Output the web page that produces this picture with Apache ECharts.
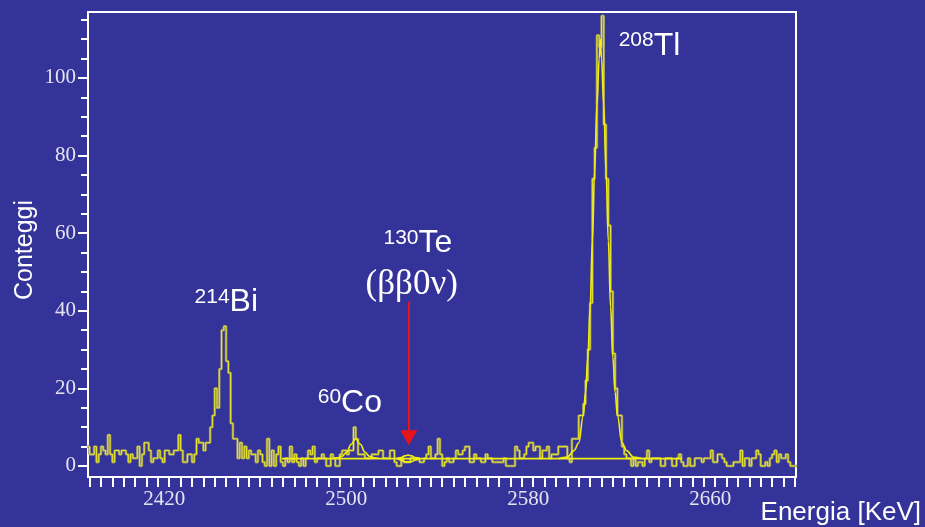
<!DOCTYPE html>
<html>
<head>
<meta charset="utf-8">
<script src="https://cdn.jsdelivr.net/npm/echarts@6/dist/echarts.min.js"></script>
<style>
html, body { margin: 0; padding: 0; background: #333399; }
#chart { width: 925px; height: 527px; }
</style>
</head>
<body>
<div id="chart"></div>
<script>
// spettro: conteggi per bin da 1 keV a partire da binStart
var binStart = 2389;
var counts = [
  5, 3, 3, 5, 1, 3, 5, 4, 3, 8,        // 2389
  3, 1, 4, 4, 3, 4, 4, 3, 1, 3,        // 2399
  2, 2, 5, 0, 3, 6, 6, 4, 1, 2,        // 2409
  2, 4, 2, 1, 4, 4, 3, 3, 4, 4,        // 2419
  8, 4, 1, 1, 3, 3, 1, 3, 7, 6,        // 2429
  6, 4, 6, 6, 10, 13, 20, 15, 25, 35,  // 2439
  36, 27, 24, 11, 7, 7, 2, 6, 2, 5,    // 2449
  2, 4, 3, 3, 1, 4, 3, 1, 0, 7,        // 2459
  0, 4, 0, 3, 5, 1, 0, 2, 1, 5,        // 2469
  1, 3, 1, 0, 2, 0, 2, 4, 3, 5,        // 2479
  1, 2, 2, 3, 2, 0, 0, 3, 2, 0,        // 2489
  0, 3, 4, 4, 3, 4, 4, 10, 7, 3,       // 2499
  3, 3, 2, 2, 2, 3, 3, 3, 4, 4,        // 2509
  2, 2, 2, 4, 4, 1, 0, 0, 2, 1,        // 2519
  1, 1, 2, 2, 2, 2, 1, 1, 2, 3,        // 2529
  5, 2, 2, 3, 7, 3, 0, 1, 2, 1,        // 2539
  1, 2, 4, 3, 3, 4, 5, 5, 1, 1,        // 2549
  3, 2, 2, 1, 1, 3, 2, 2, 1, 1,        // 2559
  1, 1, 1, 2, 0, 0, 0, 0, 5, 4,        // 2569
  2, 2, 3, 5, 6, 6, 4, 5, 5, 2,        // 2579
  4, 4, 5, 2, 3, 3, 3, 5, 5, 5,        // 2589
  5, 2, 1, 7, 7, 7, 13, 13, 16, 22,    // 2599
  30, 42, 74, 82, 111, 108, 116, 88, 74, 62, // 2609
  45, 29, 20, 13, 13, 5, 3, 2, 2, 0,   // 2619
  2, 0, 1, 1, 0, 2, 4, 1, 2, 2,        // 2629
  2, 2, 0, 0, 2, 2, 2, 0, 0, 2,        // 2639
  3, 1, 0, 0, 2, 0, 0, 2, 2, 2,        // 2649
  1, 2, 2, 2, 4, 1, 1, 3, 3, 2,        // 2659
  1, 0, 0, 0, 1, 1, 1, 4, 0, 2,        // 2669
  2, 0, 2, 2, 4, 3, 0, 0, 1, 0,        // 2679
  2, 3, 4, 1, 3, 2, 2, 3, 1, 0,        // 2689
  0, 0                                 // 2699
];

// curve di fit
var bgFitX = [2474.5, 2650.5];
var bgFitY = [1.9, 1.9];
var coFitX = [2497, 2499, 2501, 2503, 2505, 2506.9, 2509, 2511, 2513, 2515, 2517];
var coFitY = [2.0, 2.1, 2.5, 3.6, 5.6, 7.0, 5.6, 3.6, 2.5, 2.1, 2.0];
var teFitX = [2525, 2527, 2528.5, 2530, 2531.5, 2533, 2535];
var teUpY = [1.9, 2.2, 2.6, 2.8, 2.6, 2.2, 1.9];
var teLoY = [1.9, 1.5, 1.1, 1.0, 1.1, 1.5, 1.9];
var tlFitX = [2596, 2600, 2603, 2605, 2607, 2608, 2609, 2610, 2611, 2612, 2613, 2614, 2614.5,
              2615, 2616, 2617, 2618, 2619, 2620, 2621, 2622, 2624, 2626, 2629, 2633];
var tlFitY = [1.9, 2.3, 4, 6, 13, 19, 28, 41, 58, 76, 93, 105, 110,
              105, 93, 76, 58, 41, 28, 19, 13, 6, 4, 2.3, 1.9];

// etichette assi
var xLabels = [2420, 2500, 2580, 2660];
var yLabels = [0, 20, 40, 60, 80, 100];

function pairs(xs, ys) {
  return xs.map(function (x, i) { return [x, ys[i]]; });
}

var histData = counts.map(function (c, i) { return [binStart + i, c]; });
histData.push([binStart + counts.length, counts[counts.length - 1]]);

var xTicks = [];
for (var t = 2390; t <= 2700; t += 5) xTicks.push(t);
var yMinor = [];
for (var m = 0; m <= 115; m += 5) yMinor.push(m);

var white = '#ffffff';
var fitColor = '#f2ee10';
var sans = 'Liberation Sans';
var serif = 'Liberation Serif';

function fitSeries(data) {
  return {
    type: 'line', data: data, smooth: 0.4, smoothMonotone: 'x',
    symbol: 'none', silent: true, z: 4,
    lineStyle: { color: fitColor, width: 1.6 }
  };
}

var richIso = {
  s: { fontSize: 21, lineHeight: 21, verticalAlign: 'top', color: white, fontFamily: sans },
  m: { fontSize: 32, lineHeight: 32, verticalAlign: 'top', color: white, fontFamily: sans },
  g: { fontSize: 35, lineHeight: 34, color: white, fontFamily: serif }
};

var bgSeries = fitSeries(pairs(bgFitX, bgFitY));
bgSeries.markPoint = {
  symbol: 'rect', symbolSize: 1, silent: true,
  itemStyle: { color: 'rgba(0,0,0,0)' },
  label: { show: true, position: 'inside', rich: richIso },
  data: [
    { coord: [2450.1, 42.2], label: { formatter: '{s|214}{m|Bi}' } },
    { coord: [2504.4, 16.3], label: { formatter: '{s|60}{m|Co}' } },
    { coord: [2534.3, 57.3], label: { formatter: '{s|130}{m|Te}' } },
    { coord: [2531.6, 46.8], label: { formatter: '{g|(ββ0ν)}' } },
    { coord: [2636.1, 108.3], label: { formatter: '{s|208}{m|Tl}' } }
  ]
};
bgSeries.markLine = {
  silent: true,
  symbol: ['none', 'triangle'],
  symbolSize: [17, 15],
  label: { show: false },
  lineStyle: { color: '#e8141c', width: 2, type: 'solid' },
  data: [[{ coord: [2530.3, 42.3] }, { coord: [2530.3, 7.3] }]]
};

var chart = echarts.init(document.getElementById('chart'), null, { renderer: 'canvas' });
chart.setOption({
  animation: false,
  backgroundColor: '#333399',
  grid: { left: 88, top: 12, right: 129, bottom: 50, show: true, borderColor: white, borderWidth: 2 },
  xAxis: {
    type: 'value', min: 2389.3, max: 2700.5,
    axisLine: { show: true, onZero: false, lineStyle: { color: white, width: 2 } },
    axisTick: { show: true, customValues: xTicks, length: 10, lineStyle: { color: white, width: 2 } },
    axisLabel: {
      customValues: xLabels, color: '#e4e4f0', fontFamily: serif, fontSize: 21, margin: 12,
      padding: [0, 0, 0, 13], formatter: function (v) { return String(v); }
    },
    splitLine: { show: false }
  },
  yAxis: [{
    type: 'value', min: -2.84, max: 117,
    axisLine: { show: true, onZero: false, lineStyle: { color: white, width: 2 } },
    axisTick: { show: true, customValues: yLabels, length: 10, lineStyle: { color: white, width: 2 } },
    axisLabel: { customValues: yLabels, color: '#e4e4f0', fontFamily: serif, fontSize: 21, margin: 12 },
    splitLine: { show: false }
  }, {
    type: 'value', min: -2.84, max: 117, position: 'left',
    axisLine: { show: false },
    axisTick: { show: true, customValues: yMinor, length: 7, lineStyle: { color: white, width: 2 } },
    axisLabel: { show: false },
    splitLine: { show: false }
  }],
  graphic: [
    { type: 'text', x: 25, y: 250, rotation: Math.PI / 2, silent: true,
      style: { text: 'Conteggi', fill: white, font: '25px "Liberation Sans"', align: 'center', verticalAlign: 'middle' } },
    { type: 'text', x: 921, y: 513, silent: true,
      style: { text: 'Energia [KeV]', fill: white, font: '26px "Liberation Sans"', align: 'right', verticalAlign: 'middle' } }
  ],
  series: [
    { type: 'line', data: histData, step: 'end', symbol: 'none', silent: true, z: 2,
      lineStyle: { color: '#8e8a6c', width: 2.6 } },
    { type: 'line', data: histData, step: 'end', symbol: 'none', silent: true, z: 3,
      lineStyle: { color: '#ece828', width: 1 } },
    bgSeries,
    fitSeries(pairs(coFitX, coFitY)),
    fitSeries(pairs(teFitX, teUpY)),
    fitSeries(pairs(teFitX, teLoY)),
    fitSeries(pairs(tlFitX, tlFitY))
  ]
});
</script>
</body>
</html>
